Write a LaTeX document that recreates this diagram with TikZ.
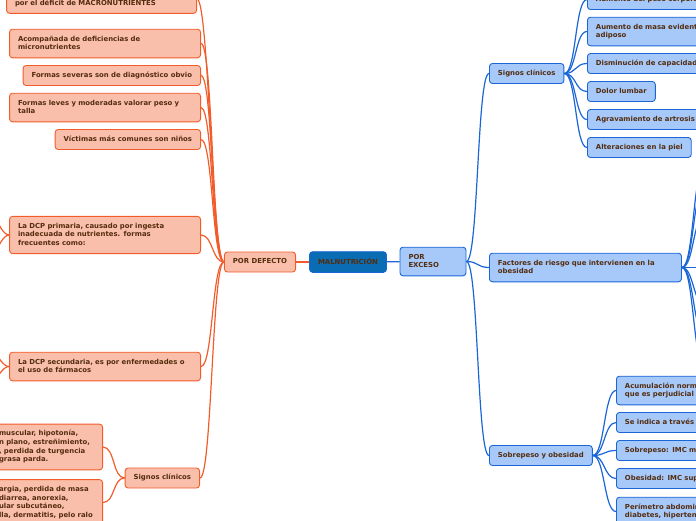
\documentclass[tikz,border=0pt]{standalone}
\usepackage{fontspec}
\setmainfont{DejaVu Sans}
\usepackage{tikz}
\usepackage{xcolor}
\usetikzlibrary{positioning}

\definecolor{defFill}{RGB}{249,191,170}
\definecolor{defLine}{RGB}{242,92,42}
\definecolor{excFill}{RGB}{166,201,250}
\definecolor{excLine}{RGB}{26,102,214}
\definecolor{rootFill}{RGB}{10,108,178}
\definecolor{txt}{RGB}{84,44,14}

\newcommand{\mstrut}{\rule[-2.2pt]{0pt}{8pt}}

\begin{document}
\begin{tikzpicture}[x=1pt, y=-1pt,
        box/.style={rounded corners=3pt, line width=0.9pt, inner xsep=8.5pt, inner ysep=6pt, align=left, text=txt,
            font=\fontsize{6.9}{8.6}\selectfont\bfseries, execute at begin node=\mstrut, execute at end node=\mstrut},
        def/.style={box, draw=defLine, fill=defFill},
        exc/.style={box, draw=excLine, fill=excFill},
        root/.style={box, draw=excLine, fill=rootFill},
        dline/.style={draw=defLine, line width=1.2pt, to path={.. controls +(-12,0) and +(12,0) .. (\tikztotarget)}},
        eline/.style={draw=excLine, line width=1.2pt, to path={.. controls +(12,0) and +(-12,0) .. (\tikztotarget)}}]
            \useasboundingbox (0,0) rectangle (696,520);
            \clip (0,0) rectangle (696,520);

            % centro
            \node[root] (mal) at (348,262) {MALNUTRICIÓN};
            \node[def] (def) at (260,262) {POR DEFECTO};
            \node[exc, text width=49pt] (exc) at (433,261.5) {POR\\EXCESO};

            % por defecto
            \node[def, anchor=east, text width=173pt] (d1) at (197,-1) {\\por el déficit de MACRONUTRIENTES};
            \node[def, anchor=east, text width=174pt] (d2) at (201,43.5) {Acompañada de deficiencias de\\micronutrientes};
            \node[def, anchor=east] (d3) at (201,75.5) {Formas severas son de diagnóstico obvio};
            \node[def, anchor=east, text width=174pt] (d4) at (201,107.5) {Formas leves y moderadas valorar peso y\\talla};
            \node[def, anchor=east] (d5) at (201,139.5) {Víctimas más comunes son niños};
            \node[def, anchor=east, text width=174pt] (d6) at (201,235) {La DCP primaria, causado por ingesta\\inadecuada de nutrientes. formas\\frecuentes como:};
            \node[def, anchor=east, text width=174pt] (d7) at (201,366.5) {La DCP secundaria, es por enfermedades o\\el uso de fármacos};
            \node[def, anchor=east] (d8) at (200,478) {Signos clínicos};
            \node[def, anchor=east, text width=95pt] (d9) at (103,447) {muscular, hipotonía,\\n plano, estreñimiento,\\, perdida de turgencia\\grasa parda.};
            \node[def, anchor=east, text width=95pt] (d10) at (103,502.5) {argia, perdida de masa\\diarrea, anorexia,\\ular subcutáneo,\\lla, dermatitis, pelo ralo};
            \coordinate (p1) at (-25,185);
            \coordinate (p2) at (-25,285);
            \coordinate (p3) at (-25,326);
            \coordinate (p4) at (-25,406);

            % por exceso
            \node[exc, anchor=west] (e1) at (489,73.5) {Signos clínicos};
            \node[exc, anchor=west, text width=175pt] (e2) at (489,267.5) {Factores de riesgo que intervienen en la\\obesidad};
            \node[exc, anchor=west] (e3) at (489,455.5) {Sobrepeso y obesidad};

            \node[exc, anchor=west, text width=200pt] (c1) at (587,-0.5) {Aumento del peso corporal};
            \node[exc, anchor=west, text width=200pt] (c2) at (587,31.5) {Aumento de masa evidente\\adiposo};
            \node[exc, anchor=west, text width=200pt] (c3) at (587,63.5) {Disminución de capacidad};
            \node[exc, anchor=west] (c4) at (587,91.5) {Dolor lumbar};
            \node[exc, anchor=west, text width=105pt] (c5) at (587,119.5) {Agravamiento de artrosis};
            \node[exc, anchor=west] (c6) at (587,147.5) {Alteraciones en la piel};

            \coordinate (f1) at (705,165);
            \coordinate (f2) at (705,185);
            \coordinate (f3) at (705,215);
            \coordinate (f4) at (705,267.5);
            \coordinate (f5) at (705,305);
            \coordinate (f6) at (705,335);
            \coordinate (f7) at (705,367);

            \node[exc, anchor=west, text width=200pt] (o1) at (616,390.5) {Acumulación normal\\que es perjudicial};
            \node[exc, anchor=west, text width=200pt] (o2) at (616,422.5) {Se indica a través};
            \node[exc, anchor=west, text width=200pt] (o3) at (616,450.5) {Sobrepeso: IMC mayor};
            \node[exc, anchor=west, text width=200pt] (o4) at (616,478.5) {Obesidad: IMC superior};
            \node[exc, anchor=west, text width=200pt] (o5) at (616,511.5) {Perímetro abdominal\\diabetes, hipertensión};

            \draw[defLine, line width=1.2pt] (mal) -- (def);
            \draw[excLine, line width=1.2pt] (mal) -- (exc);

            \draw[dline] (def.west) to (d1.east);
            \draw[dline] (def.west) to (d2.east);
            \draw[dline] (def.west) to (d3.east);
            \draw[dline] (def.west) to (d4.east);
            \draw[dline] (def.west) to (d5.east);
            \draw[dline] (def.west) to (d6.east);
            \draw[dline] (def.west) to (d7.east);
            \draw[dline] (def.west) to (d8.east);
            \draw[dline] (d8.west) to (d9.east);
            \draw[dline] (d8.west) to (d10.east);
            \draw[dline] (d6.west) to (p1);
            \draw[dline] (d6.west) to (p2);
            \draw[dline] (d7.west) to (p3);
            \draw[dline] (d7.west) to (p4);

            \draw[eline] (exc.east) to (e1.west);
            \draw[eline] (exc.east) to (e2.west);
            \draw[eline] (exc.east) to (e3.west);
            \draw[eline] (e1.east) to (c1.west);
            \draw[eline] (e1.east) to (c2.west);
            \draw[eline] (e1.east) to (c3.west);
            \draw[eline] (e1.east) to (c4.west);
            \draw[eline] (e1.east) to (c5.west);
            \draw[eline] (e1.east) to (c6.west);
            \draw[eline] (e2.east) to (f1);
            \draw[eline] (e2.east) to (f2);
            \draw[eline] (e2.east) to (f3);
            \draw[eline] (e2.east) to (f4);
            \draw[eline] (e2.east) to (f5);
            \draw[eline] (e2.east) to (f6);
            \draw[eline] (e2.east) to (f7);
            \draw[eline] (e3.east) to (o1.west);
            \draw[eline] (e3.east) to (o2.west);
            \draw[eline] (e3.east) to (o3.west);
            \draw[eline] (e3.east) to (o4.west);
            \draw[eline] (e3.east) to (o5.west);
\end{tikzpicture}
\end{document}
